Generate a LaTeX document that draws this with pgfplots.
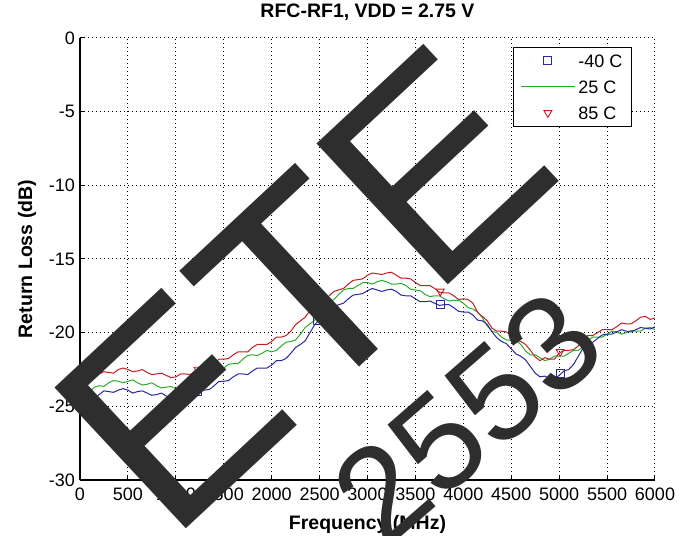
\documentclass[border=0pt]{standalone}
\usepackage{fontspec}
\setmainfont{Liberation Sans}
\usepackage{pgfplots}
\pgfplotsset{compat=1.18}

\definecolor{cblue}{RGB}{40,40,160}
\definecolor{cgreen}{RGB}{40,175,40}
\definecolor{cred}{RGB}{195,30,35}

% return loss (dB) vs frequency (MHz)
\pgfplotstableread{
f    m40    p25    p85
0    -25.5  -24.6  -23.7
50   -24.9  -24.4  -23.3
100  -24.5  -24.0  -23.2
150  -24.5  -23.7  -23.1
200  -24.2  -23.6  -22.8
250  -23.95 -23.65 -22.65
300  -24.0  -23.4  -22.7
350  -24.05 -23.25 -22.75
400  -23.9  -23.3  -22.5
450  -23.8  -23.4  -22.4
500  -23.9  -23.3  -22.5
550  -24.1  -23.2  -22.65
600  -24.0  -23.4  -22.6
650  -23.95 -23.55 -22.5
700  -24.1  -23.5  -22.7
750  -24.25 -23.4  -22.85
800  -24.2  -23.6  -22.8
850  -24.1  -23.75 -22.75
900  -24.3  -23.7  -22.9
950  -24.45 -23.65 -23.05
1000 -24.4  -23.8  -23.0
1050 -24.2  -23.8  -22.8
1100 -24.2  -23.6  -22.8
1150 -24.25 -23.35 -22.85
1200 -24.0  -23.3  -22.6
1250 -23.85 -23.25 -22.4
1300 -23.9  -23.0  -22.4
1350 -23.85 -22.7  -22.35
1400 -23.6  -22.7  -22.1
1450 -23.3  -22.65 -21.8
1500 -23.3  -22.4  -21.8
1550 -23.25 -22.15 -21.75
1600 -23.0  -22.1  -21.5
1650 -22.8  -22.1  -21.3
1700 -22.8  -21.8  -21.3
1750 -22.85 -21.55 -21.3
1800 -22.6  -21.5  -21.0
1850 -22.4  -21.55 -20.8
1900 -22.4  -21.4  -20.8
1950 -22.4  -21.2  -20.8
2000 -22.2  -21.3  -20.6
2050 -21.9  -21.2  -20.3
2100 -21.9  -20.9  -20.3
2150 -21.75 -20.65 -20.2
2200 -21.4  -20.6  -19.9
2250 -21.0  -20.5  -19.45
2300 -20.8  -20.1  -19.2
2350 -20.55 -19.65 -18.95
2400 -20.0  -19.4  -18.5
2450 -19.45 -19.15 -18.1
2500 -19.1  -18.7  -17.9
2550 -18.95 -18.2  -17.8
2600 -18.6  -17.9  -17.5
2650 -18.25 -17.75 -17.2
2700 -18.1  -17.4  -17.1
2750 -18.0  -17.1  -17.0
2800 -17.7  -17.0  -16.7
2850 -17.45 -17.0  -16.45
2900 -17.4  -16.8  -16.4
2950 -17.35 -16.6  -16.35
3000 -17.15 -16.6  -16.1
3050 -17.0  -16.7  -15.95
3100 -17.1  -16.55 -16.0
3150 -17.2  -16.45 -16.05
3200 -17.1  -16.55 -15.95
3250 -17.05 -16.7  -15.9
3300 -17.2  -16.7  -16.1
3350 -17.45 -16.65 -16.3
3400 -17.5  -16.8  -16.3
3450 -17.5  -17.05 -16.35
3500 -17.7  -17.1  -16.6
3550 -17.9  -17.15 -16.8
3600 -17.9  -17.4  -16.8
3650 -17.85 -17.55 -16.8
3700 -18.0  -17.5  -17.0
3750 -18.15 -17.5  -17.25
3800 -18.1  -17.7  -17.3
3850 -18.1  -17.85 -17.3
3900 -18.3  -17.8  -17.5
3950 -18.55 -17.8  -17.75
4000 -18.6  -18.0  -17.7
4050 -18.6  -18.3  -17.75
4100 -18.8  -18.4  -18.0
4150 -19.15 -18.6  -18.65
4200 -19.2  -19.0  -18.9
4250 -19.45 -19.55 -19.2
4300 -19.95 -19.9  -19.7
4350 -20.35 -20.0  -19.9
4400 -20.6  -20.3  -19.9
4450 -20.75 -20.5  -19.95
4500 -21.1  -20.5  -20.2
4550 -21.45 -20.55 -20.5
4600 -21.6  -20.8  -20.6
4650 -21.85 -21.25 -20.8
4700 -22.3  -21.5  -21.2
4750 -22.75 -21.5  -21.65
4800 -23.0  -21.7  -21.9
4850 -22.95 -21.9  -21.7
4900 -23.1  -21.8  -21.8
4950 -23.15 -21.6  -21.8
5000 -22.9  -21.6  -21.4
5050 -22.6  -21.6  -21.2
5100 -22.5  -21.4  -21.2
5150 -22.15 -21.2  -21.15
5200 -21.6  -21.2  -20.9
5250 -21.05 -20.95 -20.45
5300 -20.7  -20.5  -20.2
5350 -20.65 -20.3  -20.2
5400 -20.4  -20.3  -20.0
5450 -20.15 -20.3  -19.8
5500 -20.1  -20.1  -19.8
5550 -20.1  -19.9  -19.8
5600 -19.95 -19.95 -19.6
5650 -19.8  -20.1  -19.35
5700 -19.9  -20.0  -19.4
5750 -19.95 -19.85 -19.4
5800 -19.8  -19.9  -19.2
5850 -19.65 -19.9  -18.95
5900 -19.7  -19.7  -18.9
5950 -19.75 -19.65 -19.1
6000 -19.6  -19.8  -19.0
}\rldata

\begin{document}
\begin{tikzpicture}
\useasboundingbox (-80pt,-56pt) rectangle (601pt,480pt);
\begin{axis}[
    at={(0pt,0pt)}, anchor=south west,
    scale only axis, width=575pt, height=442pt,
    xmin=0, xmax=6000, ymin=-30, ymax=0,
    xtick distance=500, ytick distance=5,
    axis x line*=bottom, axis y line*=left,
    axis line style={line width=1.2pt, -},
    tick align=inside, major tick length=5pt,
    tick style={black, line width=1pt},
    grid=major,
    grid style={black, line width=1pt, dash pattern=on 1pt off 3pt},
    font=\fontsize{18}{21}\selectfont,
    /pgf/number format/assume math mode=true,
    /pgf/number format/1000 sep={},
    scaled x ticks=false,
    x tick label style={anchor=north, inner sep=0pt, yshift=-8pt},
    y tick label style={anchor=east, inner sep=0pt, xshift=-5pt},
    title={RFC-RF1, VDD = 2.75 V},
    title style={font=\fontsize{19.5}{22}\selectfont\bfseries, at={(0.5,1)}, anchor=base, yshift=14pt},
    xlabel={Frequency (MHz)},
    xlabel style={font=\fontsize{19.5}{22}\selectfont\bfseries, at={(0.5,0)}, anchor=base, yshift=-49pt},
    ylabel={Return Loss (dB)},
    ylabel style={font=\fontsize{19.5}{22}\selectfont\bfseries, at={(-0.092,0.5)}, anchor=center},
    legend image code/.code={\draw[mark repeat=2, mark phase=2, #1] plot coordinates {(0pt,0pt) (27pt,0pt) (54pt,0pt)};},
    legend cell align=left,
    legend style={at={(0.96,0.98)}, anchor=north east, draw=black, line width=1.2pt, fill=white,
        font=\fontsize{18}{21}\selectfont, inner xsep=7pt, inner ysep=5pt, row sep=9pt, column sep=1pt,
        nodes={inner sep=2pt, text height=13pt, text depth=0pt}},
]
% markers (legend entries)
\addplot[only marks, cblue, mark=square, mark size=4pt, line width=0.9pt] coordinates {
    (1230,-24.0) (2480,-19.2) (3760,-18.1) (5010,-22.8)};
\addlegendentry{-40 C}
\addplot[cgreen, line width=1pt] table[x=f, y=p25] {\rldata};
\addlegendentry{25 C}
\addplot[only marks, cred, mark=triangle, mark size=4.5pt, mark options={rotate=180}, line width=0.9pt] coordinates {
    (1230,-22.5) (2470,-18.0) (3760,-17.2) (5010,-21.3)};
\addlegendentry{85 C}
% curves
\addplot[cblue, line width=1pt, forget plot] table[x=f, y=m40] {\rldata};
\addplot[cred, line width=1pt, forget plot] table[x=f, y=p85] {\rldata};
\end{axis}
% watermark
\node[rotate=43, inner sep=0pt, anchor=center, text=black!82,
      font=\fontsize{280}{280}\selectfont] at (223pt,192pt) {ETE};
\node[rotate=41, inner sep=0pt, anchor=center, text=black!82,
      font=\fontsize{135}{135}\selectfont] at (387pt,62pt) {2553};
\end{tikzpicture}
\end{document}
